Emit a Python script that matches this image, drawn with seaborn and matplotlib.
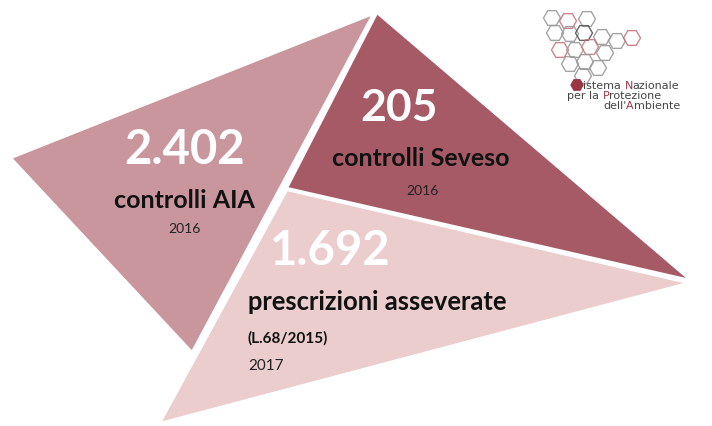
import numpy as np
import matplotlib
matplotlib.use("Agg")
import matplotlib.pyplot as plt
from matplotlib.patches import Polygon, RegularPolygon
import seaborn as sns

# ============================================================
# DATA
# ============================================================
values = [2402, 205, 1692]
labels = ["controlli AIA", "controlli Seveso", "prescrizioni asseverate"]
notes = ["", "", "(L.68/2015)"]
years = ["2016", "2016", "2017"]

# ============================================================
# STYLE
# ============================================================
sns.set_theme(style="white")
plt.rcParams["font.family"] = ["Lato", "DejaVu Sans"]
palette = sns.color_palette(["#c8969c", "#a55a65", "#ebcdcd"])
LOGO_RED = "#9b3545"

# triangle shapes (pixel coords, y down)
shapes = [
    [(11, 158), (373, 14), (192, 352)],
    [(377, 13), (690, 280), (287, 188)],
    [(287, 190), (688, 283), (160, 423)],
]

fig = plt.figure(figsize=(7.12, 4.26), dpi=100)
ax = fig.add_axes([0, 0, 1, 1])
ax.set_xlim(0, 712)
ax.set_ylim(426, 0)
ax.set_axis_off()

for pts, col in zip(shapes, palette):
    ax.add_patch(Polygon(pts, closed=True, facecolor=col,
                         edgecolor="white", linewidth=1.6, joinstyle="miter"))


def it_num(v):
    return f"{v:,}".replace(",", ".")


# ---- AIA block (centered)
ax.text(185, 164, it_num(values[0]), color="white", fontsize=34,
        fontweight="bold", ha="center", va="baseline")
ax.text(184, 208, labels[0], color="#111111", fontsize=18,
        fontweight="bold", ha="center", va="baseline")
ax.text(184, 233, years[0], color="#222222", fontsize=10,
        ha="center", va="baseline")

# ---- Seveso block
ax.text(399, 121, it_num(values[1]), color="white", fontsize=32,
        fontweight="bold", ha="center", va="baseline")
ax.text(421, 166, labels[1], color="#111111", fontsize=18,
        fontweight="bold", ha="center", va="baseline")
ax.text(422, 195, years[1], color="#222222", fontsize=10,
        ha="center", va="baseline")

# ---- prescrizioni block (left aligned)
ax.text(270, 265, it_num(values[2]), color="white", fontsize=34,
        fontweight="bold", ha="left", va="baseline")
ax.text(248, 310, labels[2], color="#111111", fontsize=18.4,
        fontweight="bold", ha="left", va="baseline")
ax.text(248, 343, notes[2], color="#111111", fontsize=11,
        fontweight="bold", ha="left", va="baseline")
ax.text(248, 370, years[2], color="#222222", fontsize=11,
        ha="left", va="baseline")

# ============================================================
# LOGO (hexagon network + name)
# ============================================================
hexes = [
    (552, 18, "g"), (568, 21, "r"), (587, 19, "g"),
    (555, 33, "g"), (570, 34, "g"), (584, 33, "d"), (602, 37, "g"),
    (617, 41, "g"), (632, 38, "r"),
    (560, 50, "r"), (575, 50, "g"), (590, 47, "r"), (605, 53, "g"),
    (570, 64, "g"), (585, 62, "g"), (598, 68, "g"), (583, 76, "g"),
]
hex_cols = {"g": "#9a9a9a", "r": "#c77880", "d": "#555555"}
for hx, hy, k in hexes:
    ax.add_patch(RegularPolygon((hx, hy), numVertices=6, radius=8.5,
                                orientation=np.pi / 6, facecolor="none",
                                edgecolor=hex_cols[k], linewidth=1.0, alpha=0.9))
ax.add_patch(RegularPolygon((577, 85), numVertices=6, radius=6,
                            orientation=np.pi / 6, facecolor=LOGO_RED,
                            edgecolor=LOGO_RED))

renderer = fig.canvas.get_renderer()


def rich_line(x, y, parts, size=8):
    for s, c in parts:
        t = ax.text(x, y, s, color=c, fontsize=size, family="DejaVu Sans",
                    ha="left", va="baseline")
        bb = t.get_window_extent(renderer)
        x0 = ax.transData.inverted().transform((bb.x0, bb.y0))[0]
        x1 = ax.transData.inverted().transform((bb.x1, bb.y0))[0]
        x += x1 - x0


rich_line(583, 89, [("istema ", "#444444"), ("N", LOGO_RED), ("azionale", "#444444")])
rich_line(567, 99, [("per la ", "#444444"), ("P", LOGO_RED), ("rotezione", "#444444")])
rich_line(603, 109, [("dell'", "#444444"), ("A", LOGO_RED), ("mbiente", "#444444")])

fig.savefig("out.png", dpi=100, facecolor="white")
